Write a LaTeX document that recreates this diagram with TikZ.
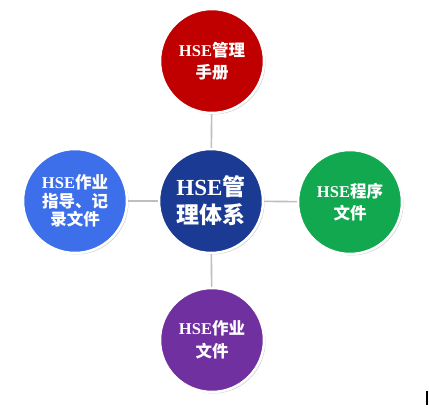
\documentclass[tikz,border=0pt]{standalone}
\usepackage{fontspec}
\setmainfont{Liberation Serif}
\newfontfamily\cjk{Noto Sans CJK SC}
\usepackage{tikz}
\usetikzlibrary{shadows}

\definecolor{hsered}{HTML}{C00000}
\definecolor{hsenavy}{HTML}{1B3A94}
\definecolor{hseblue}{HTML}{3D6FEA}
\definecolor{hsegreen}{HTML}{11A84F}
\definecolor{hsepurple}{HTML}{7030A0}
\definecolor{hseline}{HTML}{BFBFBF}

\begin{document}
\begin{tikzpicture}[x=1pt,y=-1pt,
   ball/.style={circle,draw=white,line width=2.5pt,minimum size=104pt,
      text=white,align=center,font=\bfseries\fontsize{16.5}{22.5}\selectfont,
      drop shadow={opacity=0.35,shadow xshift=1.5pt,shadow yshift=-1.5pt}},
   link/.style={draw=hseline,line width=1.6pt}]
   \useasboundingbox (0,0) rectangle (429,409);

   \node[ball,fill=hsenavy,font=\bfseries\fontsize{23}{28}\selectfont] (core) at (211,201) {HSE{\cjk 管}\\{\cjk 理体系}};
   \node[ball,fill=hsered] (manual) at (212,61) {HSE{\cjk 管理}\\{\cjk 手册}};
   \node[ball,fill=hseblue,font=\bfseries\fontsize{16.5}{18.5}\selectfont] (guide) at (75,201) {HSE{\cjk 作业}\\{\cjk 指导、记}\\{\cjk 录文件}};
   \node[ball,fill=hsegreen] (proc) at (350,202) {HSE{\cjk 程序}\\{\cjk 文件}};
   \node[ball,fill=hsepurple] (work) at (212,340) {HSE{\cjk 作业}\\{\cjk 文件}};

   \draw[link] (core) -- (manual) ;
   \draw[link] (core) -- (guide) ;
   \draw[link] (core) -- (proc) ;
   \draw[link] (core) -- (work) ;

   \fill (425.5,391) rectangle (427.5,405) ;
\end{tikzpicture}
\end{document}
